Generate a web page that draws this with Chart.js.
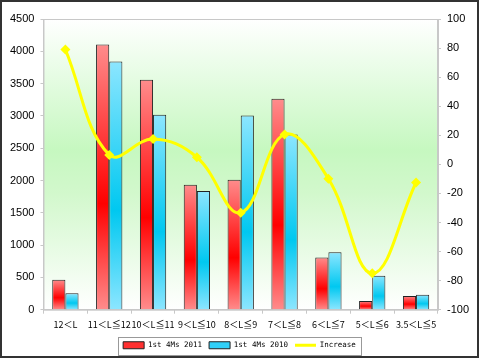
<!DOCTYPE html>
<html>
<head>
<meta charset="utf-8">
<script src="https://cdn.jsdelivr.net/npm/chart.js@4"></script>
<style>
  html, body { margin: 0; padding: 0; background: #fff; }
  #wrap { width: 480px; height: 359px; position: relative; }
</style>
</head>
<body>
<div id="wrap"><canvas id="chart" width="480" height="359"></canvas></div>
<script>
// categories and values
const categories = ['12＜L', '11＜L≦12', '10＜L≦11', '9＜L≦10', '8＜L≦9', '7＜L≦8', '6＜L≦7', '5＜L≦6', '3.5＜L≦5'];
const sales2011 = [464, 4105, 3558, 1933, 2011, 3266, 808, 136, 214];
const sales2010 = [255, 3844, 3016, 1839, 3005, 2714, 891, 527, 230];
const increase = [79, 6.5, 17.4, 4.9, -33.3, 20.6, -9.9, -75, -12.5];

// vertical gradient per bar: light at the ends, strong colour in the middle
function barGradient(light, strong) {
    return function (ctx) {
        const chart = ctx.chart;
        if (!chart.chartArea || !chart.scales.y) return strong;
        const y = chart.scales.y;
        const top = y.getPixelForValue(ctx.raw);
        const bottom = y.getPixelForValue(0);
        if (!isFinite(top) || bottom - top < 1) return strong;
        const g = chart.ctx.createLinearGradient(0, top, 0, bottom);
        g.addColorStop(0, light);
        g.addColorStop(0.6, strong);
        g.addColorStop(1, light);
        return g;
    };
}

// green plot background + frame + outer border + legend box
const decor = {
    id: 'decor',
    beforeDraw(chart) {
        const { ctx, chartArea: a } = chart;
        ctx.save();
        const g = ctx.createLinearGradient(0, a.top, 0, a.bottom);
        g.addColorStop(0, '#ffffff');
        g.addColorStop(0.45, '#c6f8c0');
        g.addColorStop(0.6, '#d2f8cc');
        g.addColorStop(1, '#ffffff');
        ctx.fillStyle = g;
        ctx.fillRect(a.left, a.top, a.right - a.left, a.bottom - a.top);
        ctx.strokeStyle = '#c8c8c8';
        ctx.lineWidth = 1;
        ctx.strokeRect(a.left + 0.5, a.top + 0.5, a.right - a.left, a.bottom - a.top);
        ctx.restore();
    },
    afterDraw(chart) {
        const { ctx } = chart;
        ctx.save();
        ctx.strokeStyle = '#333';
        ctx.lineWidth = 2;
        ctx.strokeRect(1, 1, 477, 356);
        const boxes = chart.legend.legendHitBoxes;
        if (boxes && boxes.length) {
            const x0 = Math.min(...boxes.map(b => b.left)) - 5;
            const x1 = Math.max(...boxes.map(b => b.left + b.width)) + 5;
            const y0 = Math.min(...boxes.map(b => b.top)) - 5;
            const y1 = Math.max(...boxes.map(b => b.top + b.height)) + 5;
            ctx.strokeStyle = '#999';
            ctx.lineWidth = 1;
            ctx.strokeRect(Math.round(x0) + 0.5, Math.round(y0) + 0.5, Math.round(x1 - x0), Math.round(y1 - y0));
        }
        ctx.restore();
    }
};

new Chart(document.getElementById('chart').getContext('2d'), {
    type: 'bar',
    data: {
        labels: categories,
        datasets: [{
            label: '1st 4Ms 2011',
            data: sales2011,
            backgroundColor: barGradient('#ff8c8c', '#ff0000'),
            borderColor: '#222',
            borderWidth: 1,
            yAxisID: 'y',
            order: 1
        }, {
            label: '1st 4Ms 2010',
            data: sales2010,
            backgroundColor: barGradient('#8ce6ff', '#00c8f0'),
            borderColor: '#222',
            borderWidth: 1,
            yAxisID: 'y',
            order: 1
        }, {
            type: 'line',
            label: 'Increase',
            data: increase,
            borderColor: '#ffff00',
            backgroundColor: '#ffff00',
            borderWidth: 3,
            tension: 0.4,
            pointStyle: 'rectRot',
            pointRadius: 5,
            pointBorderWidth: 0,
            yAxisID: 'y1',
            order: 0
        }]
    },
    options: {
        responsive: false,
        animation: false,
        categoryPercentage: 0.6,
        barPercentage: 1,
        layout: { padding: { top: 19, left: 4, right: 5, bottom: 0 } },
        plugins: {
            tooltip: { enabled: false },
            legend: {
                position: 'bottom',
                labels: {
                    usePointStyle: true,
                    boxHeight: 7,
                    pointStyleWidth: 21,
                    padding: 7,
                    color: '#000',
                    font: { family: 'DejaVu Sans Mono', size: 7.5 },
                    generateLabels(chart) {
                        return chart.data.datasets.map((ds, i) => ({
                            text: ds.label,
                            datasetIndex: i,
                            fillStyle: i === 0 ? '#ff3030' : i === 1 ? '#30d0f8' : '#ffff00',
                            strokeStyle: i === 2 ? '#ffff00' : '#222',
                            lineWidth: i === 2 ? 3 : 1,
                            pointStyle: i === 2 ? 'line' : 'rect',
                            fontColor: '#000'
                        }));
                    }
                }
            }
        },
        scales: {
            x: {
                grid: { display: true, drawOnChartArea: false, tickLength: 4, color: '#c8c8c8', offset: true },
                border: { color: '#c8c8c8' },
                ticks: {
                    autoSkip: false, maxRotation: 0, color: '#000', padding: 5,
                    font: { family: 'Noto Sans CJK SC', size: 9 }
                }
            },
            y: {
                position: 'left',
                min: 0, max: 4500,
                ticks: {
                    stepSize: 500, color: '#000', font: { family: 'Arial', size: 11 }, padding: 6,
                    callback: v => String(v)
                },
                grid: { drawOnChartArea: false, tickLength: 3, color: '#c8c8c8' },
                border: { color: '#c8c8c8' }
            },
            y1: {
                position: 'right',
                min: -100, max: 100,
                ticks: {
                    stepSize: 20, color: '#000', font: { family: 'Arial', size: 11 }, padding: 6,
                    callback: v => String(v)
                },
                grid: { drawOnChartArea: false, tickLength: 3, color: '#c8c8c8' },
                border: { color: '#c8c8c8' }
            }
        }
    },
    plugins: [decor]
});
</script>
</body>
</html>
